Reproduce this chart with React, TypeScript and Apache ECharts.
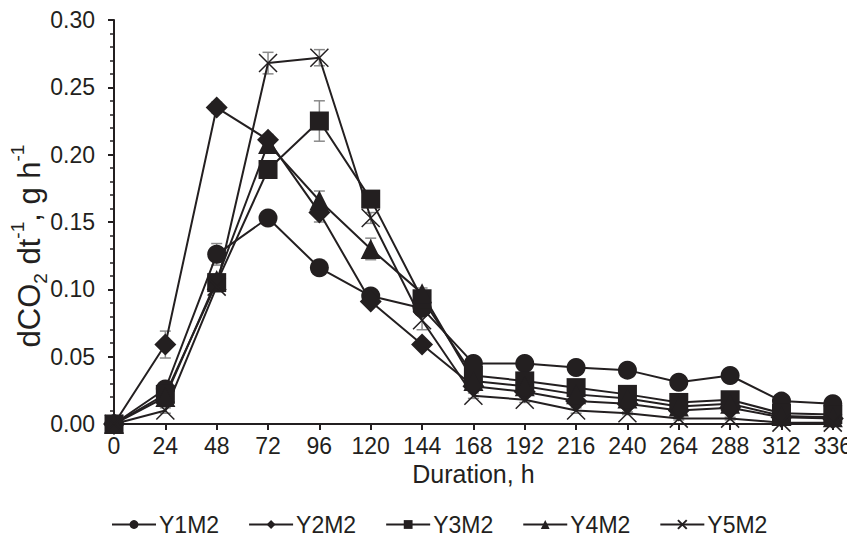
import React, { useEffect, useRef } from "react";
import * as echarts from "echarts";

const hours = ["0", "24", "48", "72", "96", "120", "144", "168", "192", "216", "240", "264", "288", "312", "336"];

const seriesNames = ["Y1M2", "Y2M2", "Y3M2", "Y4M2", "Y5M2"];

const y1m2 = [0, 0.026, 0.126, 0.153, 0.116, 0.095, 0.086, 0.045, 0.045, 0.042, 0.040, 0.031, 0.036, 0.017, 0.015];
const y2m2 = [0, 0.059, 0.235, 0.211, 0.157, 0.091, 0.059, 0.028, 0.024, 0.017, 0.015, 0.010, 0.012, 0.005, 0.004];
const y3m2 = [0, 0.022, 0.105, 0.189, 0.225, 0.167, 0.093, 0.036, 0.032, 0.027, 0.022, 0.016, 0.018, 0.008, 0.007];
const y4m2 = [0, 0.020, 0.107, 0.208, 0.166, 0.130, 0.097, 0.032, 0.028, 0.022, 0.019, 0.013, 0.015, 0.006, 0.005];
const y5m2 = [0, 0.010, 0.102, 0.268, 0.272, 0.153, 0.077, 0.021, 0.018, 0.010, 0.008, 0.004, 0.004, 0.001, 0.001];

const e1 = [0, 0.003, 0.008, 0.004, 0.003, 0.003, 0.003, 0.002, 0.002, 0.002, 0.002, 0.002, 0.002, 0.001, 0.001];
const e2 = [0, 0.010, 0.004, 0.004, 0.007, 0.003, 0.003, 0.002, 0.002, 0.002, 0.002, 0.001, 0.001, 0.001, 0.001];
const e3 = [0, 0.003, 0.004, 0.005, 0.015, 0.004, 0.004, 0.002, 0.002, 0.002, 0.002, 0.001, 0.001, 0.001, 0.001];
const e4 = [0, 0.003, 0.004, 0.004, 0.007, 0.008, 0.004, 0.002, 0.002, 0.002, 0.002, 0.001, 0.001, 0.001, 0.001];
const e5 = [0, 0.002, 0.004, 0.008, 0.006, 0.004, 0.007, 0.002, 0.002, 0.002, 0.001, 0.001, 0.001, 0.001, 0.001];

const yTicks = [0, 0.05, 0.1, 0.15, 0.2, 0.25, 0.3];

const INK = "#231f20";
const GREY = "#8a8a8a";
const FONT = "Liberation Sans, Arial, sans-serif";

const crossPath = "path://M0,0L20,20M20,0L0,20";

function errorSeries(values: number[], errs: number[]) {
  const data = values.map((v, i) => [i, v, errs[i]]);
  return {
    type: "custom",
    silent: true,
    z: 1,
    data,
    renderItem: (params: any, api: any) => {
      const x = api.value(0);
      const y = api.value(1);
      const e = api.value(2);
      const top = api.coord([x, y + e]);
      const bot = api.coord([x, y - e]);
      const hw = 5.5;
      const style = { stroke: GREY, lineWidth: 1.5 };
      return {
        type: "group",
        children: [
          { type: "line", shape: { x1: top[0], y1: top[1], x2: bot[0], y2: bot[1] }, style },
          { type: "line", shape: { x1: top[0] - hw, y1: top[1], x2: top[0] + hw, y2: top[1] }, style },
          { type: "line", shape: { x1: bot[0] - hw, y1: bot[1], x2: bot[0] + hw, y2: bot[1] }, style },
        ],
      };
    },
  };
}

function lineSeries(name: string, data: number[], symbol: string, size: number, extra: any = {}) {
  return {
    name,
    type: "line",
    data,
    symbol,
    symbolSize: size,
    z: 3,
    lineStyle: { color: INK, width: 2 },
    itemStyle: { color: INK },
    ...extra,
  };
}

export default function App() {
  const ref = useRef<HTMLDivElement>(null);
  useEffect(() => {
    if (!ref.current) return;
    const chart = echarts.init(ref.current, undefined, { renderer: "svg" });
    const option: any = {
      animation: false,
      backgroundColor: "#ffffff",
      textStyle: { fontFamily: FONT, color: INK },
      grid: { left: 114, right: 22, top: 20, bottom: 120, containLabel: false },
      legend: {
        bottom: 3,
        left: 106,
        itemWidth: 44,
        itemHeight: 11,
        itemGap: 29,
        textStyle: { fontSize: 23, color: INK, fontFamily: FONT, padding: [0, 0, 0, -2] },
        data: seriesNames,
      },
      xAxis: {
        type: "category",
        data: hours,
        boundaryGap: false,
        name: "Duration, h",
        nameLocation: "middle",
        nameGap: 34,
        nameTextStyle: { fontSize: 25, color: INK, fontFamily: FONT },
        axisLine: { lineStyle: { color: INK, width: 2 } },
        axisTick: { show: true, length: 6, lineStyle: { color: INK, width: 2 }, alignWithLabel: true },
        axisLabel: { fontSize: 23, color: INK, margin: 10, fontFamily: FONT },
        splitLine: { show: false },
      },
      yAxis: {
        type: "value",
        min: 0,
        max: 0.3,
        interval: 0.05,
        axisLine: { show: true, lineStyle: { color: INK, width: 2 } },
        axisTick: { show: true, length: 6, lineStyle: { color: INK, width: 2 } },
        minorTick: { show: true, splitNumber: 5, length: 4, lineStyle: { color: INK, width: 1.5 } },
        axisLabel: {
          fontSize: 23,
          color: INK,
          margin: 19,
          fontFamily: FONT,
          formatter: (v: number) => {
            const m = yTicks.find((t) => Math.abs(t - v) < 1e-9);
            return (m !== undefined ? m : v).toFixed(2);
          },
        },
        splitLine: { show: false },
      },
      graphic: [
        {
          type: "text",
          x: 29,
          y: 246,
          rotation: Math.PI / 2,
          style: {
            text: "{n|dCO}{sub|2}{n| dt}{sup|-1}{n|, g h}{sup|-1}",
            align: "center",
            verticalAlign: "middle",
            fill: INK,
            rich: {
              n: { fontSize: 31, fontFamily: FONT, fill: INK, lineHeight: 42, verticalAlign: "middle" },
              sub: { fontSize: 19, fontFamily: FONT, fill: INK, lineHeight: 42, verticalAlign: "bottom" },
              sup: { fontSize: 19, fontFamily: FONT, fill: INK, lineHeight: 42, verticalAlign: "top" },
            },
          },
        },
      ],
      series: [
        errorSeries(y1m2, e1),
        errorSeries(y2m2, e2),
        errorSeries(y3m2, e3),
        errorSeries(y4m2, e4),
        errorSeries(y5m2, e5),
        lineSeries("Y1M2", y1m2, "circle", 19),
        lineSeries("Y2M2", y2m2, "diamond", 22),
        lineSeries("Y3M2", y3m2, "rect", 19),
        lineSeries("Y4M2", y4m2, "triangle", 20),
        lineSeries("Y5M2", y5m2, crossPath, 18, {
          itemStyle: { color: "transparent", borderColor: INK, borderWidth: 1.5 },
        }),
      ],
    };
    chart.setOption(option);
    return () => chart.dispose();
  }, []);
  return <div ref={ref} style={{ width: 855, height: 544, margin: -8 }} />;
}
